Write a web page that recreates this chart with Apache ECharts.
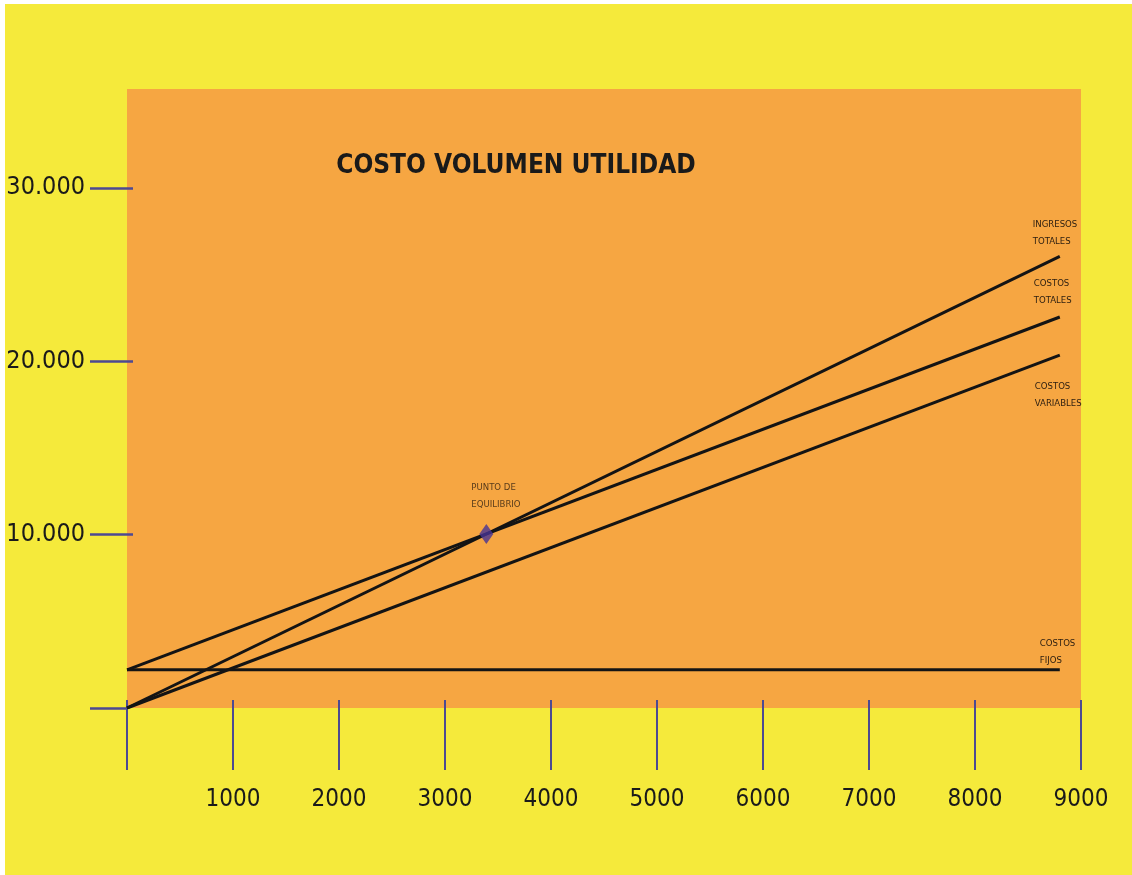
<!DOCTYPE html>
<html><head><meta charset="utf-8">
<script src="https://cdn.jsdelivr.net/npm/echarts@6/dist/echarts.min.js"></script>
<style>html,body{margin:0;padding:0;background:#fff;}#c{position:absolute;left:5px;top:4px;width:1127px;height:871px;}</style>
</head><body><div id="c"></div><script>
const units = [0, 8800];
const ingresosTotales = [0, 26050];
const costosTotales = [2200, 22550];
const costosVariables = [0, 20350];
const costosFijos = [2200, 2200];
const puntoEquilibrio = [3390, 10030];
const xTickValues = [0, 1000, 2000, 3000, 4000, 5000, 6000, 7000, 8000, 9000];
const xTickLabels = ['', '1000', '2000', '3000', '4000', '5000', '6000', '7000', '8000', '9000'];
const yTickValues = [0, 10000, 20000, 30000];
const yTickLabels = ['', '10.000', '20.000', '30.000'];
const seriesNames = ['INGRESOS\nTOTALES', 'COSTOS\nTOTALES', 'COSTOS\nVARIABLES', 'COSTOS\nFIJOS'];
const titleText = 'COSTO VOLUMEN UTILIDAD';
const pointLabel = 'PUNTO DE\nEQUILIBRIO';

const FONT = '"Liberation Sans Narrow", "DejaVu Sans Condensed", "Noto Sans", sans-serif';
const TICK = '#4d4a92';
const chart = echarts.init(document.getElementById('c'), null, {renderer: 'canvas'});

function lineSeries(ys, name, offset) {
  return {
    type: 'line', name: name.replace('\n', ' '),
    data: units.map((x, i) => ({
      value: [x, ys[i]],
      label: i === units.length - 1 ? {
        show: true, formatter: name, position: offset, align: 'left', verticalAlign: 'top',
        fontFamily: FONT, fontSize: 9.5, lineHeight: 17, color: '#2a1d10'
      } : {show: false}
    })),
    symbol: 'circle', symbolSize: 0, showSymbol: true,
    lineStyle: {color: '#141414', width: 3},
    itemStyle: {color: '#141414'},
    silent: true, animation: false, z: 3
  };
}

const xCommon = {type: 'value', min: 0, max: 9000, interval: 1000, splitLine: {show: false}, axisLine: {show: false}};
const yCommon = {type: 'value', min: 0, max: 35700, splitLine: {show: false}, axisLine: {show: false}};

chart.setOption({
  backgroundColor: '#f5ea3b',
  animation: false,
  title: {
    text: titleText, left: 506, top: 144, textAlign: 'center',
    textStyle: {fontFamily: FONT, fontWeight: 'bold', fontSize: 26, color: '#1a1a1a'}
  },
  grid: {left: 122, right: 51, top: 85, bottom: 167, show: true, backgroundColor: '#f6a642', borderWidth: 0,
    containLabel: false, outerBoundsMode: 'none'},
  xAxis: [
    Object.assign({}, xCommon, {
      position: 'bottom',
      axisTick: {show: true, inside: false, length: 62, customValues: xTickValues, lineStyle: {color: TICK, width: 2}},
      axisLabel: {show: true, customValues: xTickValues, margin: 80,
        formatter: v => xTickLabels[xTickValues.indexOf(v)] || '',
        fontFamily: FONT, fontSize: 24, color: '#1a1a1a'}
    }),
    Object.assign({}, xCommon, {
      position: 'bottom',
      axisTick: {show: true, inside: true, length: 8, customValues: xTickValues, lineStyle: {color: TICK, width: 2}},
      axisLabel: {show: false}
    })
  ],
  yAxis: [
    Object.assign({}, yCommon, {
      position: 'left',
      axisTick: {show: true, inside: false, length: 37, customValues: yTickValues, lineStyle: {color: TICK, width: 2.5}},
      axisLabel: {show: true, customValues: yTickValues, margin: 42,
        formatter: v => yTickLabels[yTickValues.indexOf(v)] || '',
        fontFamily: FONT, fontSize: 25, color: '#1a1a1a'}
    }),
    Object.assign({}, yCommon, {
      position: 'left',
      axisTick: {show: true, inside: true, length: 6, customValues: yTickValues.slice(1), lineStyle: {color: TICK, width: 2.5}},
      axisLabel: {show: false}
    })
  ],
  series: [
    lineSeries(ingresosTotales, seriesNames[0], [-27, -40]),
    lineSeries(costosTotales, seriesNames[1], [-26, -42]),
    lineSeries(costosVariables, seriesNames[2], [-25, 23]),
    lineSeries(costosFijos, seriesNames[3], [-20, -35]),
    {
      type: 'scatter', name: 'PUNTO DE EQUILIBRIO',
      data: [puntoEquilibrio],
      symbol: 'diamond', symbolSize: [14, 20],
      itemStyle: {color: '#463395'},
      label: {show: true, formatter: pointLabel, position: [-8, -45], align: 'left', verticalAlign: 'top',
        fontFamily: FONT, fontSize: 9.5, lineHeight: 17, color: '#2a1d10'},
      z: 5, silent: true
    }
  ]
});
</script></body></html>
